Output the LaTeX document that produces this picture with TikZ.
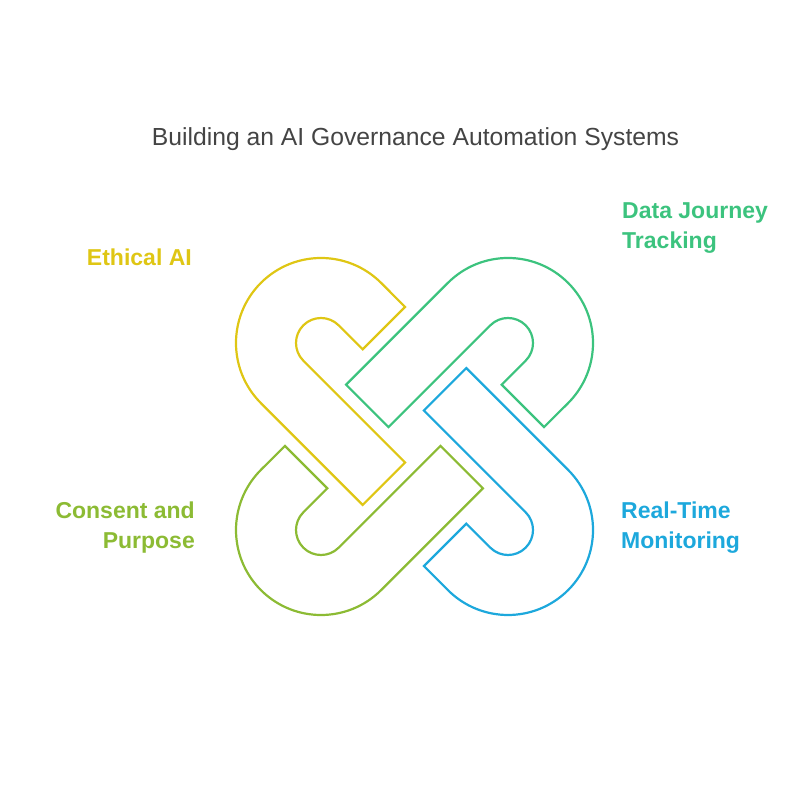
\documentclass[tikz,border=0pt]{standalone}
\usepackage{fontspec}
\setmainfont{Liberation Sans}
\definecolor{cyellow}{HTML}{DFC614}
\definecolor{cgreen}{HTML}{3CC37E}
\definecolor{colive}{HTML}{8CBB34}
\definecolor{cblue}{HTML}{1DA8DC}
\definecolor{ctitle}{HTML}{444444}
\tikzset{
  hookline/.style={line width=2.2pt, line join=miter},
  lbl/.style={inner sep=0pt, font=\fontsize{23}{30}\selectfont\bfseries},
}
\newcommand{\hookpath}{%
  (60.1,60.1) arc[start angle=45, end angle=225, radius=85]
  -- ++(101.8,-101.8) -- ++(42.4,42.4) -- (-17.68,-17.68)
  arc[start angle=225, end angle=45, radius=25]
  -- ++(24,-24) -- ++(42.4,42.4) -- cycle}
\begin{document}
\begin{tikzpicture}[x=1pt,y=1pt]
\useasboundingbox (0,0) rectangle (800,800);
\node[inner sep=0pt, anchor=base, text=ctitle, font=\fontsize{24.7}{30}\selectfont] (title) at (415.5,654) {Building an AI Governance Automation Systems};
\begin{scope}[shift={(321,457)}]
  \draw[hookline, cyellow] \hookpath;
\end{scope}
\begin{scope}[shift={(508,457)}, rotate=-90]
  \draw[hookline, cgreen] \hookpath;
\end{scope}
\begin{scope}[shift={(508,270)}, rotate=-180]
  \draw[hookline, cblue] \hookpath;
\end{scope}
\begin{scope}[shift={(321,270)}, rotate=90]
  \draw[hookline, colive] \hookpath;
\end{scope}
\node[lbl, text=cyellow, anchor=base east] (eth) at (192,534) {Ethical AI};
\node[lbl, text=cgreen, anchor=base west, align=left] (djt) at (622,551) {Data Journey\\Tracking};
\node[lbl, text=colive, anchor=base east, align=right] (cap) at (195,251) {Consent and\\Purpose};
\node[lbl, text=cblue, anchor=base west, align=left] (rtm) at (621,251) {Real-Time\\Monitoring};
\end{tikzpicture}
\end{document}
